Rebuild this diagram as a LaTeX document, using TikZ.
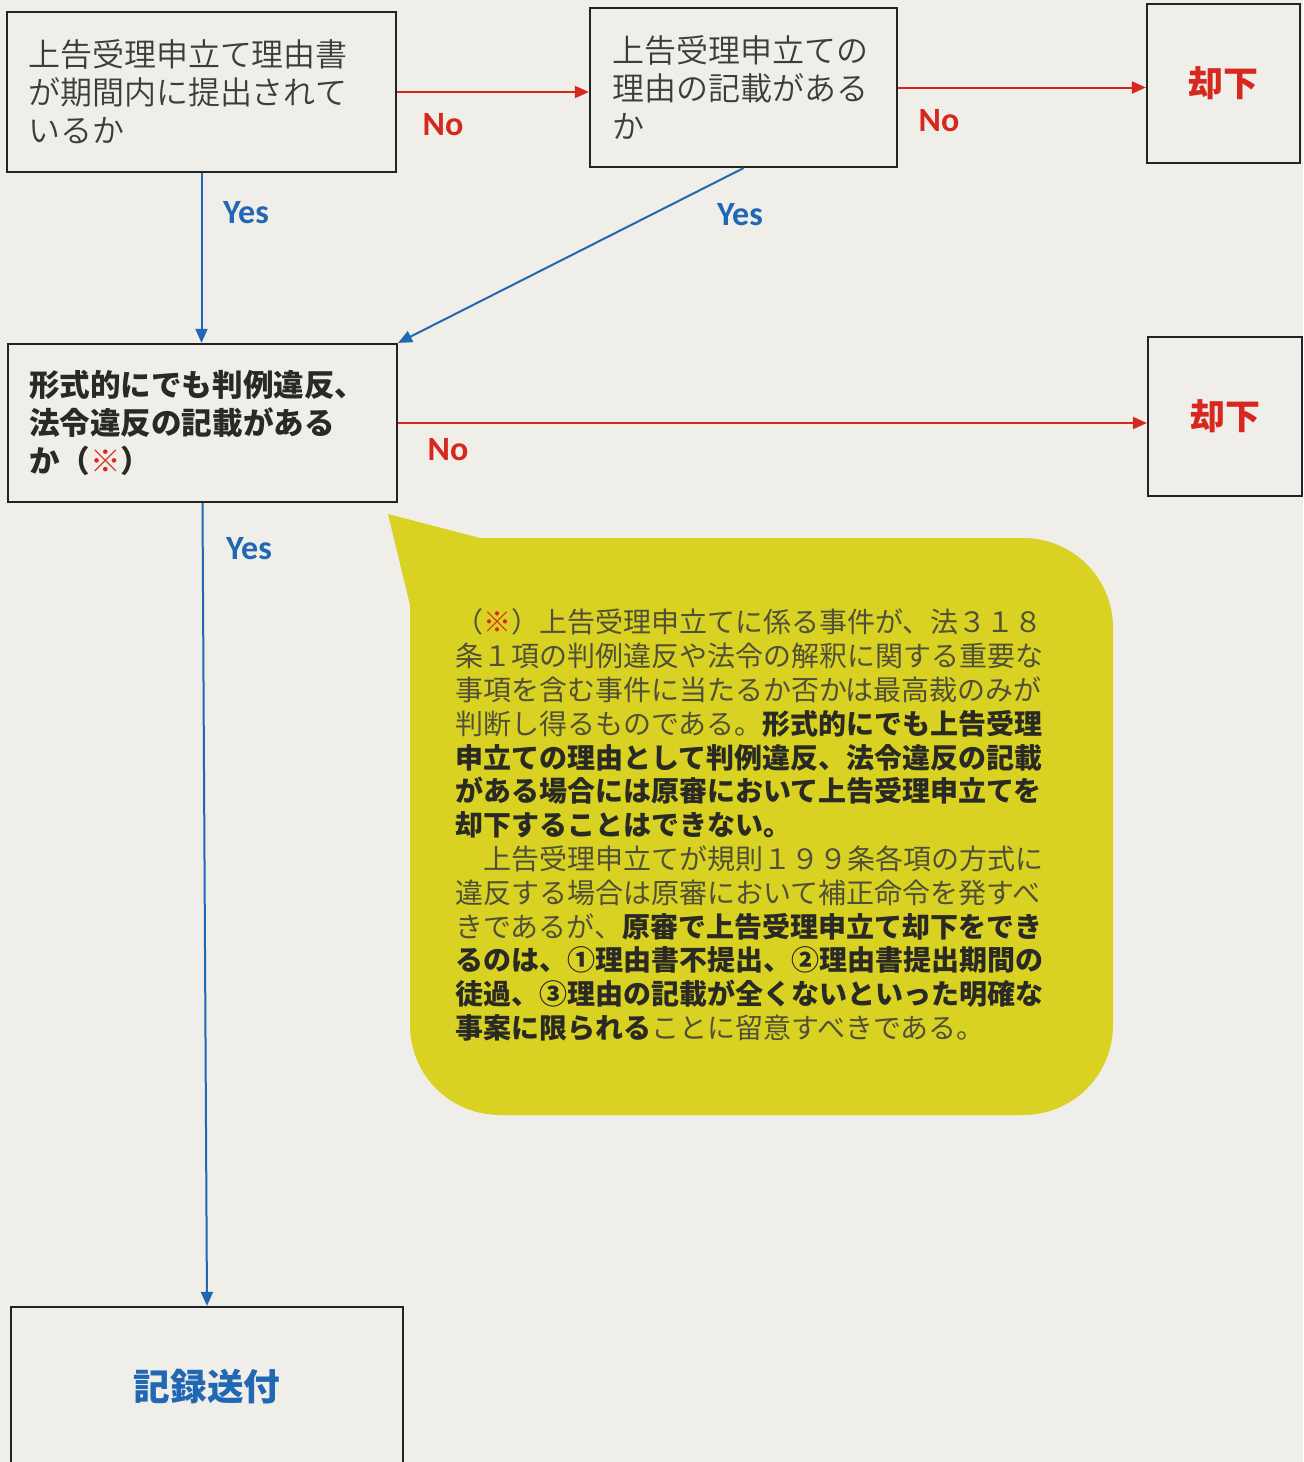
\documentclass[tikz,border=0pt]{standalone}
\usepackage{fontspec}
\newfontfamily\jp{Noto Sans CJK JP}
\newfontfamily\jplight{Noto Sans CJK JP DemiLight}
\newfontfamily\lat{Carlito}
\usetikzlibrary{arrows.meta}
\definecolor{bg}{RGB}{240,238,232}
\definecolor{jred}{RGB}{214,40,30}
\definecolor{jblue}{RGB}{32,104,180}
\definecolor{bub}{RGB}{218,210,35}
\definecolor{boxc}{RGB}{35,35,35}
\definecolor{lighttext}{RGB}{60,60,60}
\definecolor{bubtext}{RGB}{80,80,55}
\definecolor{boldtext}{RGB}{42,42,36}
\begin{document}
\begin{tikzpicture}[x=0.5pt,y=-0.5pt,
  qbox/.style={draw=boxc, line width=1.1pt, align=left, inner xsep=10.5pt, inner ysep=0pt,
    font=\jplight\fontsize{16pt}{19pt}\selectfont, text=lighttext},
  endbox/.style={draw=boxc, line width=1.1pt, inner sep=0pt, font=\jp\bfseries\fontsize{17.5pt}{20pt}\selectfont},
  nolab/.style={font=\lat\bfseries\fontsize{17pt}{20pt}\selectfont, text=jred, inner sep=0pt},
  yeslab/.style={font=\lat\bfseries\fontsize{17pt}{20pt}\selectfont, text=jblue, inner sep=0pt},
  redarr/.style={draw=jred, line width=1pt, -{Triangle[length=7pt,width=6pt]}},
  bluearr/.style={draw=jblue, line width=1pt, -{Triangle[length=7pt,width=6pt]}},
  bubtxt/.style={align=left, text width=300pt, inner sep=0pt, text=bubtext,
    font=\jp\fontsize{14pt}{16.9pt}\selectfont}
]
\fill[bg] (0,0) rectangle (1303,1462);
\useasboundingbox (0,0) rectangle (1303,1462);

% speech bubble
\fill[bub] (388,514) -- (480,538) -- (1023,538)
  .. controls (1073,538) and (1113,578) .. (1113,628) -- (1113,1025)
  .. controls (1113,1075) and (1073,1115) .. (1023,1115) -- (500,1115)
  .. controls (450,1115) and (410,1075) .. (410,1025) -- (410,605) -- cycle;

\node[bubtxt] (note) at (755,825) {%
（{\color{jred}※}）上告受理申立てに係る事件が、法３１８\\
条１項の判例違反や法令の解釈に関する重要な\\
事項を含む事件に当たるか否かは最高裁のみが\\
判断し得るものである。{\bfseries\color{boldtext}形式的にでも上告受理}\\
{\bfseries\color{boldtext}申立ての理由として判例違反、法令違反の記載}\\
{\bfseries\color{boldtext}がある場合には原審において上告受理申立てを}\\
{\bfseries\color{boldtext}却下することはできない。}\\
　上告受理申立てが規則１９９条各項の方式に\\
違反する場合は原審において補正命令を発すべ\\
きであるが、{\bfseries\color{boldtext}原審で上告受理申立て却下をでき}\\
{\bfseries\color{boldtext}るのは、①理由書不提出、②理由書提出期間の}\\
{\bfseries\color{boldtext}徒過、③理由の記載が全くないといった明確な}\\
{\bfseries\color{boldtext}事案に限られる}ことに留意すべきである。};

% boxes
\node[qbox, text width=173.5pt, minimum height=80pt] (A) at (201.5,92)
  {上告受理申立て理由書\\が期間内に提出されて\\いるか};
\node[qbox, inner xsep=11pt, text width=131.5pt, minimum height=79.5pt] (B) at (743.5,87.5)
  {上告受理申立ての\\理由の記載がある\\か};
\node[endbox, text=jred, minimum width=76.5pt, minimum height=79.5pt] (C) at (1223.5,83.5) {却下};
\node[qbox, text width=173.5pt, minimum height=79pt, text=boldtext,
  font=\jp\bfseries\fontsize{15.3pt}{19.2pt}\selectfont] (D) at (202.5,423)
  {形式的にでも判例違反、\\法令違反の記載がある\\か（{\color{jred}※}）};
\node[endbox, text=jred, minimum width=77pt, minimum height=79.5pt] (E) at (1225,416.5) {却下};
\node[endbox, text=jblue, font=\jp\bfseries\fontsize{18.3pt}{20pt}\selectfont,
  minimum width=196pt, minimum height=79.5pt] (F) at (207,1386.5) {記録送付};

% connectors
\draw[redarr] (A.east) -- (A.east -| B.west);
\draw[redarr] (B.east) -- (B.east -| C.west);
\draw[redarr] (D.east) -- (D.east -| E.west);
\draw[bluearr] (A.south) -- (A.south |- D.north);
\draw[bluearr] (B.south) -- (D.north east);
\draw[bluearr] (D.south) -- (F.north);

% labels
\node[nolab] (no1) at (443,125) {No};
\node[nolab] (no2) at (939,121) {No};
\node[nolab] (no3) at (448,450) {No};
\node[yeslab] (yes1) at (246,213) {Yes};
\node[yeslab] (yes2) at (740,215) {Yes};
\node[yeslab] (yes3) at (249,549) {Yes};
\end{tikzpicture}
\end{document}
